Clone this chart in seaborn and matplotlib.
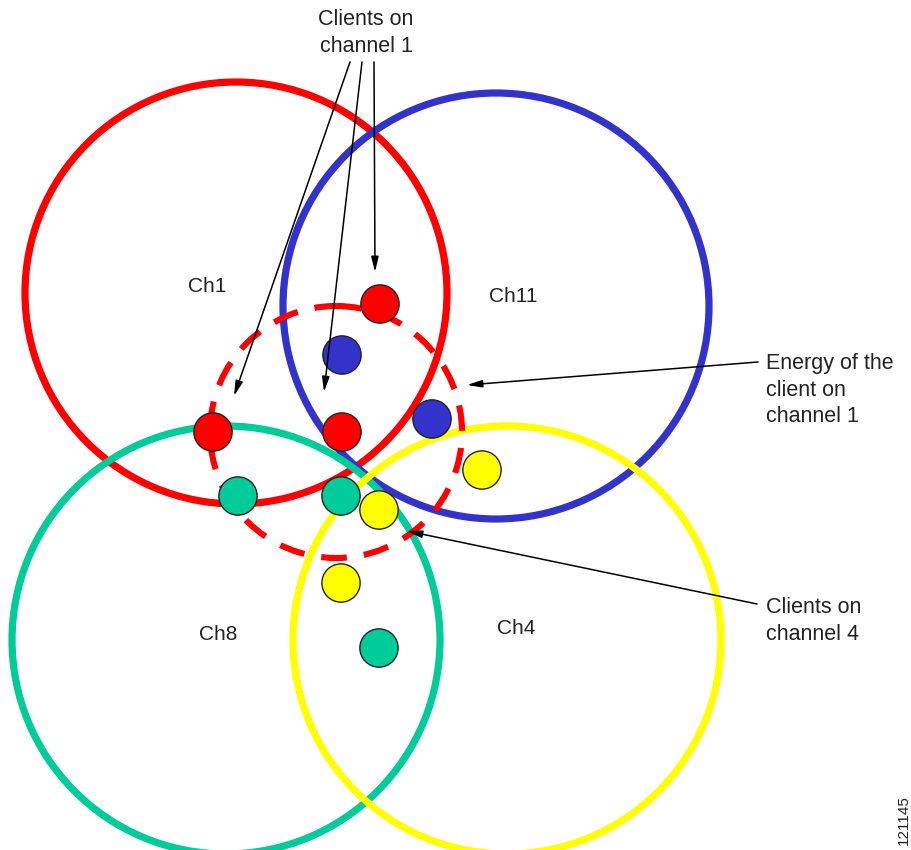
import matplotlib
matplotlib.use("Agg")
import matplotlib.pyplot as plt
import seaborn as sns
import pandas as pd
from matplotlib.patches import Circle

# Channel coverage cells (pixel space, y grows downward)
cell_names = ["Ch1", "Ch11", "Ch8", "Ch4"]
cell_x = [236, 496, 226, 507]
cell_y = [293, 306, 640, 640]
cell_r = [211, 213, 214, 214]
cell_colors = ["#ff0000", "#3333cc", "#00cc99", "#ffff00"]
label_x = [207, 513, 218, 516]
label_y = [287, 297, 634, 628]

# Energy footprint of the client on channel 1
energy_x, energy_y, energy_r = 336, 432, 126

# Clients
client_x = [380, 342, 213, 342, 432, 238, 341, 379, 379, 482, 341]
client_y = [304, 432, 432, 355, 419, 496, 496, 648, 510, 470, 583]
client_ch = ["Ch1", "Ch1", "Ch1", "Ch11", "Ch11", "Ch8", "Ch8", "Ch8", "Ch4", "Ch4", "Ch4"]

# Callouts
arrow_from = [(350, 62), (362, 62), (374, 62), (758, 362), (757, 604)]
arrow_to = [(234, 396), (324, 392), (375, 272), (467, 385), (407, 531)]

sns.set_style("white")
plt.rcParams["font.family"] = ["Liberation Sans", "DejaVu Sans"]

fig = plt.figure(figsize=(9.12, 8.5), dpi=100)
ax = fig.add_axes([0, 0, 1, 1])
ax.set_xlim(0, 912)
ax.set_ylim(850, 0)
ax.set_axis_off()

palette = dict(zip(cell_names, cell_colors))

for name, cx, cy, r, col in zip(cell_names, cell_x, cell_y, cell_r, cell_colors):
    ax.add_patch(Circle((cx, cy), r, fill=False, edgecolor=col, linewidth=5.2, zorder=2))

ax.add_patch(Circle((energy_x, energy_y), energy_r, fill=False, edgecolor="#ff0000",
                    linewidth=4.4, linestyle=(0, (4.2, 2.8)), zorder=3))

for name, lx, ly in zip(cell_names, label_x, label_y):
    ax.text(lx, ly, name, fontsize=15, ha="center", va="center", color="#222222")

clients = pd.DataFrame({"x": client_x, "y": client_y, "channel": client_ch})
sns.scatterplot(data=clients, x="x", y="y", hue="channel", palette=palette, s=760,
                edgecolor="#222222", linewidth=1.0, legend=False, ax=ax, zorder=4)
ax.set_xlabel("")
ax.set_ylabel("")
ax.set_axis_off()

for (x0, y0), (x1, y1) in zip(arrow_from, arrow_to):
    ax.annotate("", xy=(x1, y1), xytext=(x0, y0),
                arrowprops=dict(arrowstyle="-|>,head_length=0.9,head_width=0.22",
                                color="black", lw=1.1, shrinkA=0, shrinkB=0),
                zorder=5)

ax.text(366, 33, "Clients on\nchannel 1", fontsize=15.5, ha="center", va="center",
        linespacing=1.35, color="#222222")
ax.text(766, 390, "Energy of the\nclient on\nchannel 1", fontsize=15.5, ha="left",
        va="center", linespacing=1.35, color="#222222")
ax.text(766, 621, "Clients on\nchannel 4", fontsize=15.5, ha="left", va="center",
        linespacing=1.35, color="#222222")
ax.text(904, 820, "121145", fontsize=11, rotation=90, ha="center", va="center",
        color="#222222")

fig.savefig("out.png", dpi=100)
